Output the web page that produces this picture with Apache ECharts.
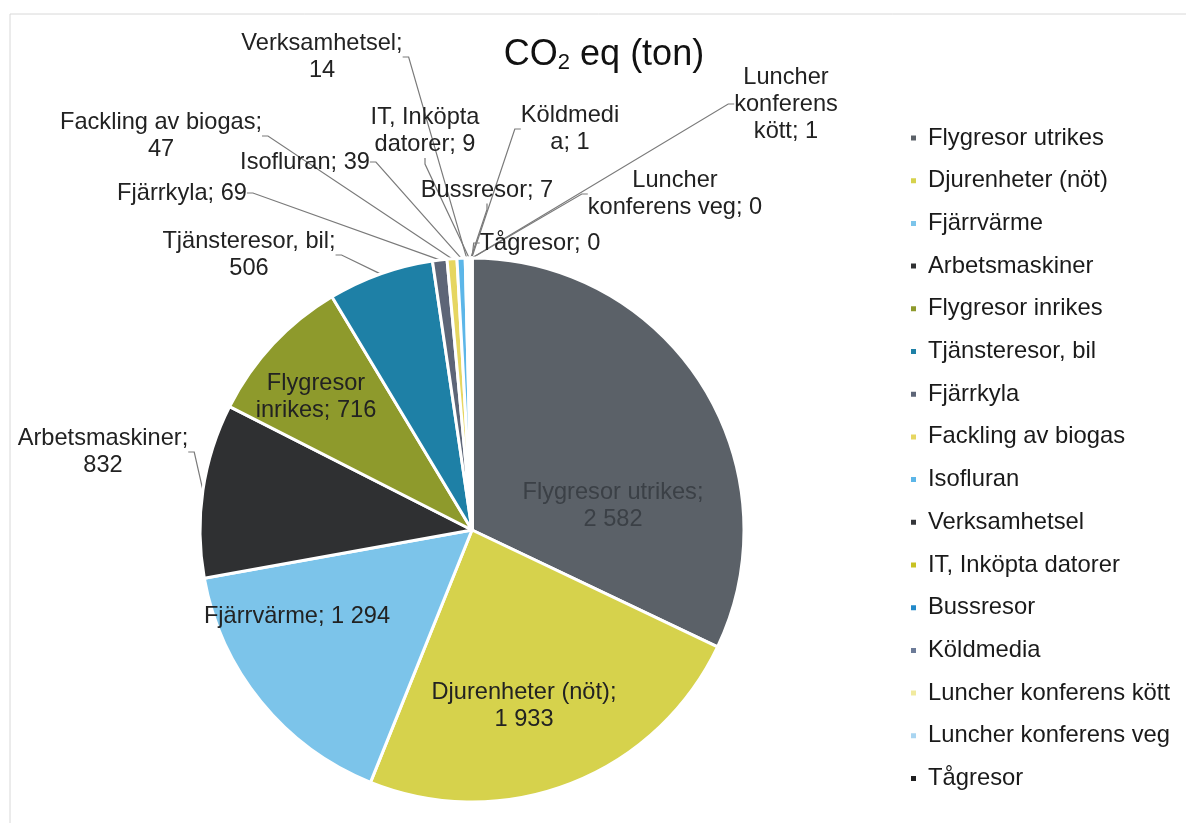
<!DOCTYPE html>
<html>
<head>
<meta charset="utf-8">
<script src="https://cdn.jsdelivr.net/npm/echarts@6/dist/echarts.min.js"></script>
<style>
html,body{margin:0;padding:0;background:#fff;}
#c{width:1186px;height:823px;}
</style>
</head>
<body>
<div id="c"></div>
<script>
const categories = ["Flygresor utrikes","Djurenheter (nöt)","Fjärrvärme","Arbetsmaskiner","Flygresor inrikes","Tjänsteresor, bil","Fjärrkyla","Fackling av biogas","Isofluran","Verksamhetsel","IT, Inköpta datorer","Bussresor","Köldmedia","Luncher konferens kött","Luncher konferens veg","Tågresor"];
const values = [2582,1933,1294,832,716,506,69,47,39,14,9,7,1,1,0,0];
const colors = ["#5b6168","#d6d24c","#7cc4ea","#2f3032","#8e9a2c","#1e80a6","#5d6577","#e6d661","#5cb6e8","#35363a","#c8c222","#2289c9","#6c7b98","#f1ea9e","#a9d5f1","#1f1f20"];
// label text layout (line breaks as in the reference)
const labelTemplates = ["{n};\n{v}","{n};\n{v}","{n}; {v}","{n};\n{v}","Flygresor\ninrikes; {v}","{n};\n{v}","{n}; {v}","{n};\n{v}","{n}; {v}","{n};\n{v}","IT, Inköpta\ndatorer; {v}","{n}; {v}","Köldmedi\na; {v}","Luncher\nkonferens\nkött; {v}","Luncher\nkonferens veg; {v}","{n}; {v}"];
const insideIdx = [0,1,2,4];
// label centre positions (px)
const labelPos = [[613,506],[524,706],[297,616],[103,452],[316,397],[249,255],[182,193],[161,136],[305,162],[322,57],[425,131],[487,190],[570,129],[786,104],[675,194],[540,243]];

function fmt(v){ return String(v).replace(/\B(?=(\d{3})+(?!\d))/g,' '); }

const chart = echarts.init(document.getElementById('c'));
const data = categories.map((n,i)=>({
  name:n, value:values[i],
  itemStyle:{color:colors[i]},
  labelLine:{show: insideIdx.indexOf(i)<0},
  label:{color: i===0 ? '#3b4046' : '#222'}
}));
chart.setOption({
  animation:false,
  backgroundColor:'#fff',
  graphic:[{type:'rect',shape:{x:10,y:14,width:1200,height:900},style:{fill:'none',stroke:'#d8d8d8',lineWidth:1},silent:true}],
  title:{
    text:'CO{s|2} eq (ton)', left:599, top:31, textAlign:'center',
    textStyle:{fontFamily:'Liberation Sans',fontSize:36,fontWeight:'normal',color:'#111',
      rich:{s:{fontSize:22,verticalAlign:'bottom',padding:[16,0,0,0],fontFamily:'Liberation Sans',color:'#111'}}}
  },
  legend:{
    orient:'vertical', left:904, top:121,
    itemWidth:7, itemHeight:7, itemGap:18.7, icon:'rect',
    textStyle:{fontFamily:'Liberation Sans',fontSize:23.8,color:'#1a1a1a',padding:[0,0,0,6]},
    data:categories
  },
  series:[{
    type:'pie', center:[472,530], radius:272, startAngle:90, clockwise:true,
    avoidLabelOverlap:false,
    itemStyle:{borderColor:'#fff',borderWidth:3},
    label:{
      show:true, fontFamily:'Liberation Sans', fontSize:23.6, lineHeight:27, align:'center',
      formatter:(p)=>labelTemplates[p.dataIndex].replace('{n}',p.name).replace('{v}',fmt(p.value))
    },
    labelLine:{show:true,lineStyle:{color:'#7a7a7a',width:1.2},length:10,length2:6},
    labelLayout:(p)=>{ const q=labelPos[p.dataIndex]; return {x:q[0],y:q[1],align:'center',verticalAlign:'middle',hideOverlap:false,moveOverlap:false}; },
    data:data
  }]
});
</script>
</body>
</html>
